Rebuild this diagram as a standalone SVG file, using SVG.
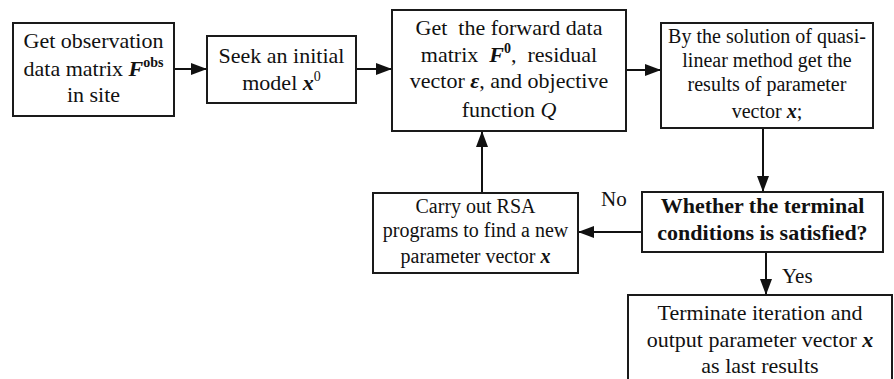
<svg xmlns="http://www.w3.org/2000/svg" width="894" height="379" viewBox="0 0 894 379">
<defs>
<style>
.box{fill:#fff;stroke:#1a1a1a;stroke-width:2}
text{font-family:'Liberation Serif','DejaVu Serif',serif}
.t{font-size:22px;fill:#111;text-anchor:middle}
.s{font-size:20px}
.b{font-weight:bold}
.bi{font-weight:bold;font-style:italic}
.i{font-style:italic}
.lbl{font-size:21px;fill:#111}
.c{stroke:#111;stroke-width:2;fill:none;marker-end:url(#ah)}
</style>
<marker id="ah" viewBox="0 0 16 12" refX="16" refY="6" markerWidth="16" markerHeight="12" markerUnits="userSpaceOnUse" orient="auto">
<path d="M0,0 L16,6 L0,12 Z" fill="#111"/>
</marker>
</defs>
<rect width="894" height="379" fill="#fff"/>
<g id="connectors">
<line class="c" x1="174" y1="69" x2="207" y2="69"/>
<line class="c" x1="356" y1="69" x2="392" y2="69"/>
<line class="c" x1="626" y1="70" x2="661" y2="70"/>
<line class="c" x1="763" y1="128" x2="763" y2="192"/>
<line class="c" x1="642" y1="232" x2="578" y2="232"/>
<line class="c" x1="482" y1="193" x2="482" y2="131"/>
<line class="c" x1="766" y1="252" x2="766" y2="295"/>
<text class="lbl" x="601" y="206" font-family="Liberation Serif, serif">No</text>
<text class="lbl" x="782" y="283" font-family="Liberation Serif, serif">Yes</text>
</g>
<g id="n1" font-family="Liberation Serif, serif">
<rect class="box" x="13" y="23" width="161" height="93"/>
<text class="t" x="93.5" y="48">Get observation</text>
<text class="t" x="93.5" y="76">data matrix <tspan class="bi">F</tspan><tspan class="b" font-size="14" dy="-9">obs</tspan></text>
<text class="t" x="93.5" y="102">in site</text>
</g>
<g id="n2">
<rect class="box" x="207" y="36" width="149" height="67"/>
<text class="t" x="281.5" y="63">Seek an initial</text>
<text class="t" x="281.5" y="90">model <tspan class="bi">x</tspan><tspan font-size="14" dy="-9">0</tspan></text>
</g>
<g id="n3">
<rect class="box" x="392" y="10" width="234" height="121"/>
<text class="t" x="509" y="35" xml:space="preserve">Get  the forward data</text>
<text class="t" x="509" y="62" xml:space="preserve">matrix  <tspan class="bi">F</tspan><tspan class="b" font-size="14" dy="-9">0</tspan><tspan dy="9">,  residual</tspan></text>
<text class="t" x="509" y="88">vector <tspan class="bi">ε</tspan>, and objective</text>
<text class="t" x="509" y="117">function <tspan class="i">Q</tspan></text>
</g>
<g id="n4">
<rect class="box" x="661" y="23" width="212" height="105"/>
<text class="t s" x="767" y="43">By the solution of quasi-</text>
<text class="t s" x="767" y="67">linear method get the</text>
<text class="t s" x="767" y="91">results of parameter</text>
<text class="t s" x="767" y="118">vector <tspan class="bi">x</tspan>;</text>
</g>
<g id="n5">
<rect class="box" x="642" y="192" width="241" height="60"/>
<text class="t b" x="762.5" y="213">Whether the terminal</text>
<text class="t b" x="762.5" y="240">conditions is satisfied?</text>
</g>
<g id="n6">
<rect class="box" x="373" y="193" width="205" height="80"/>
<text class="t s" x="475.5" y="213">Carry out RSA</text>
<text class="t s" x="475.5" y="237">programs to find a new</text>
<text class="t s" x="475.5" y="263">parameter vector <tspan class="bi">x</tspan></text>
</g>
<g id="n7">
<rect class="box" x="628" y="295" width="264" height="90"/>
<text class="t" x="760" y="320">Terminate iteration and</text>
<text class="t" x="760" y="347">output parameter vector <tspan class="bi">x</tspan></text>
<text class="t" x="760" y="373">as last results</text>
</g>
</svg>
